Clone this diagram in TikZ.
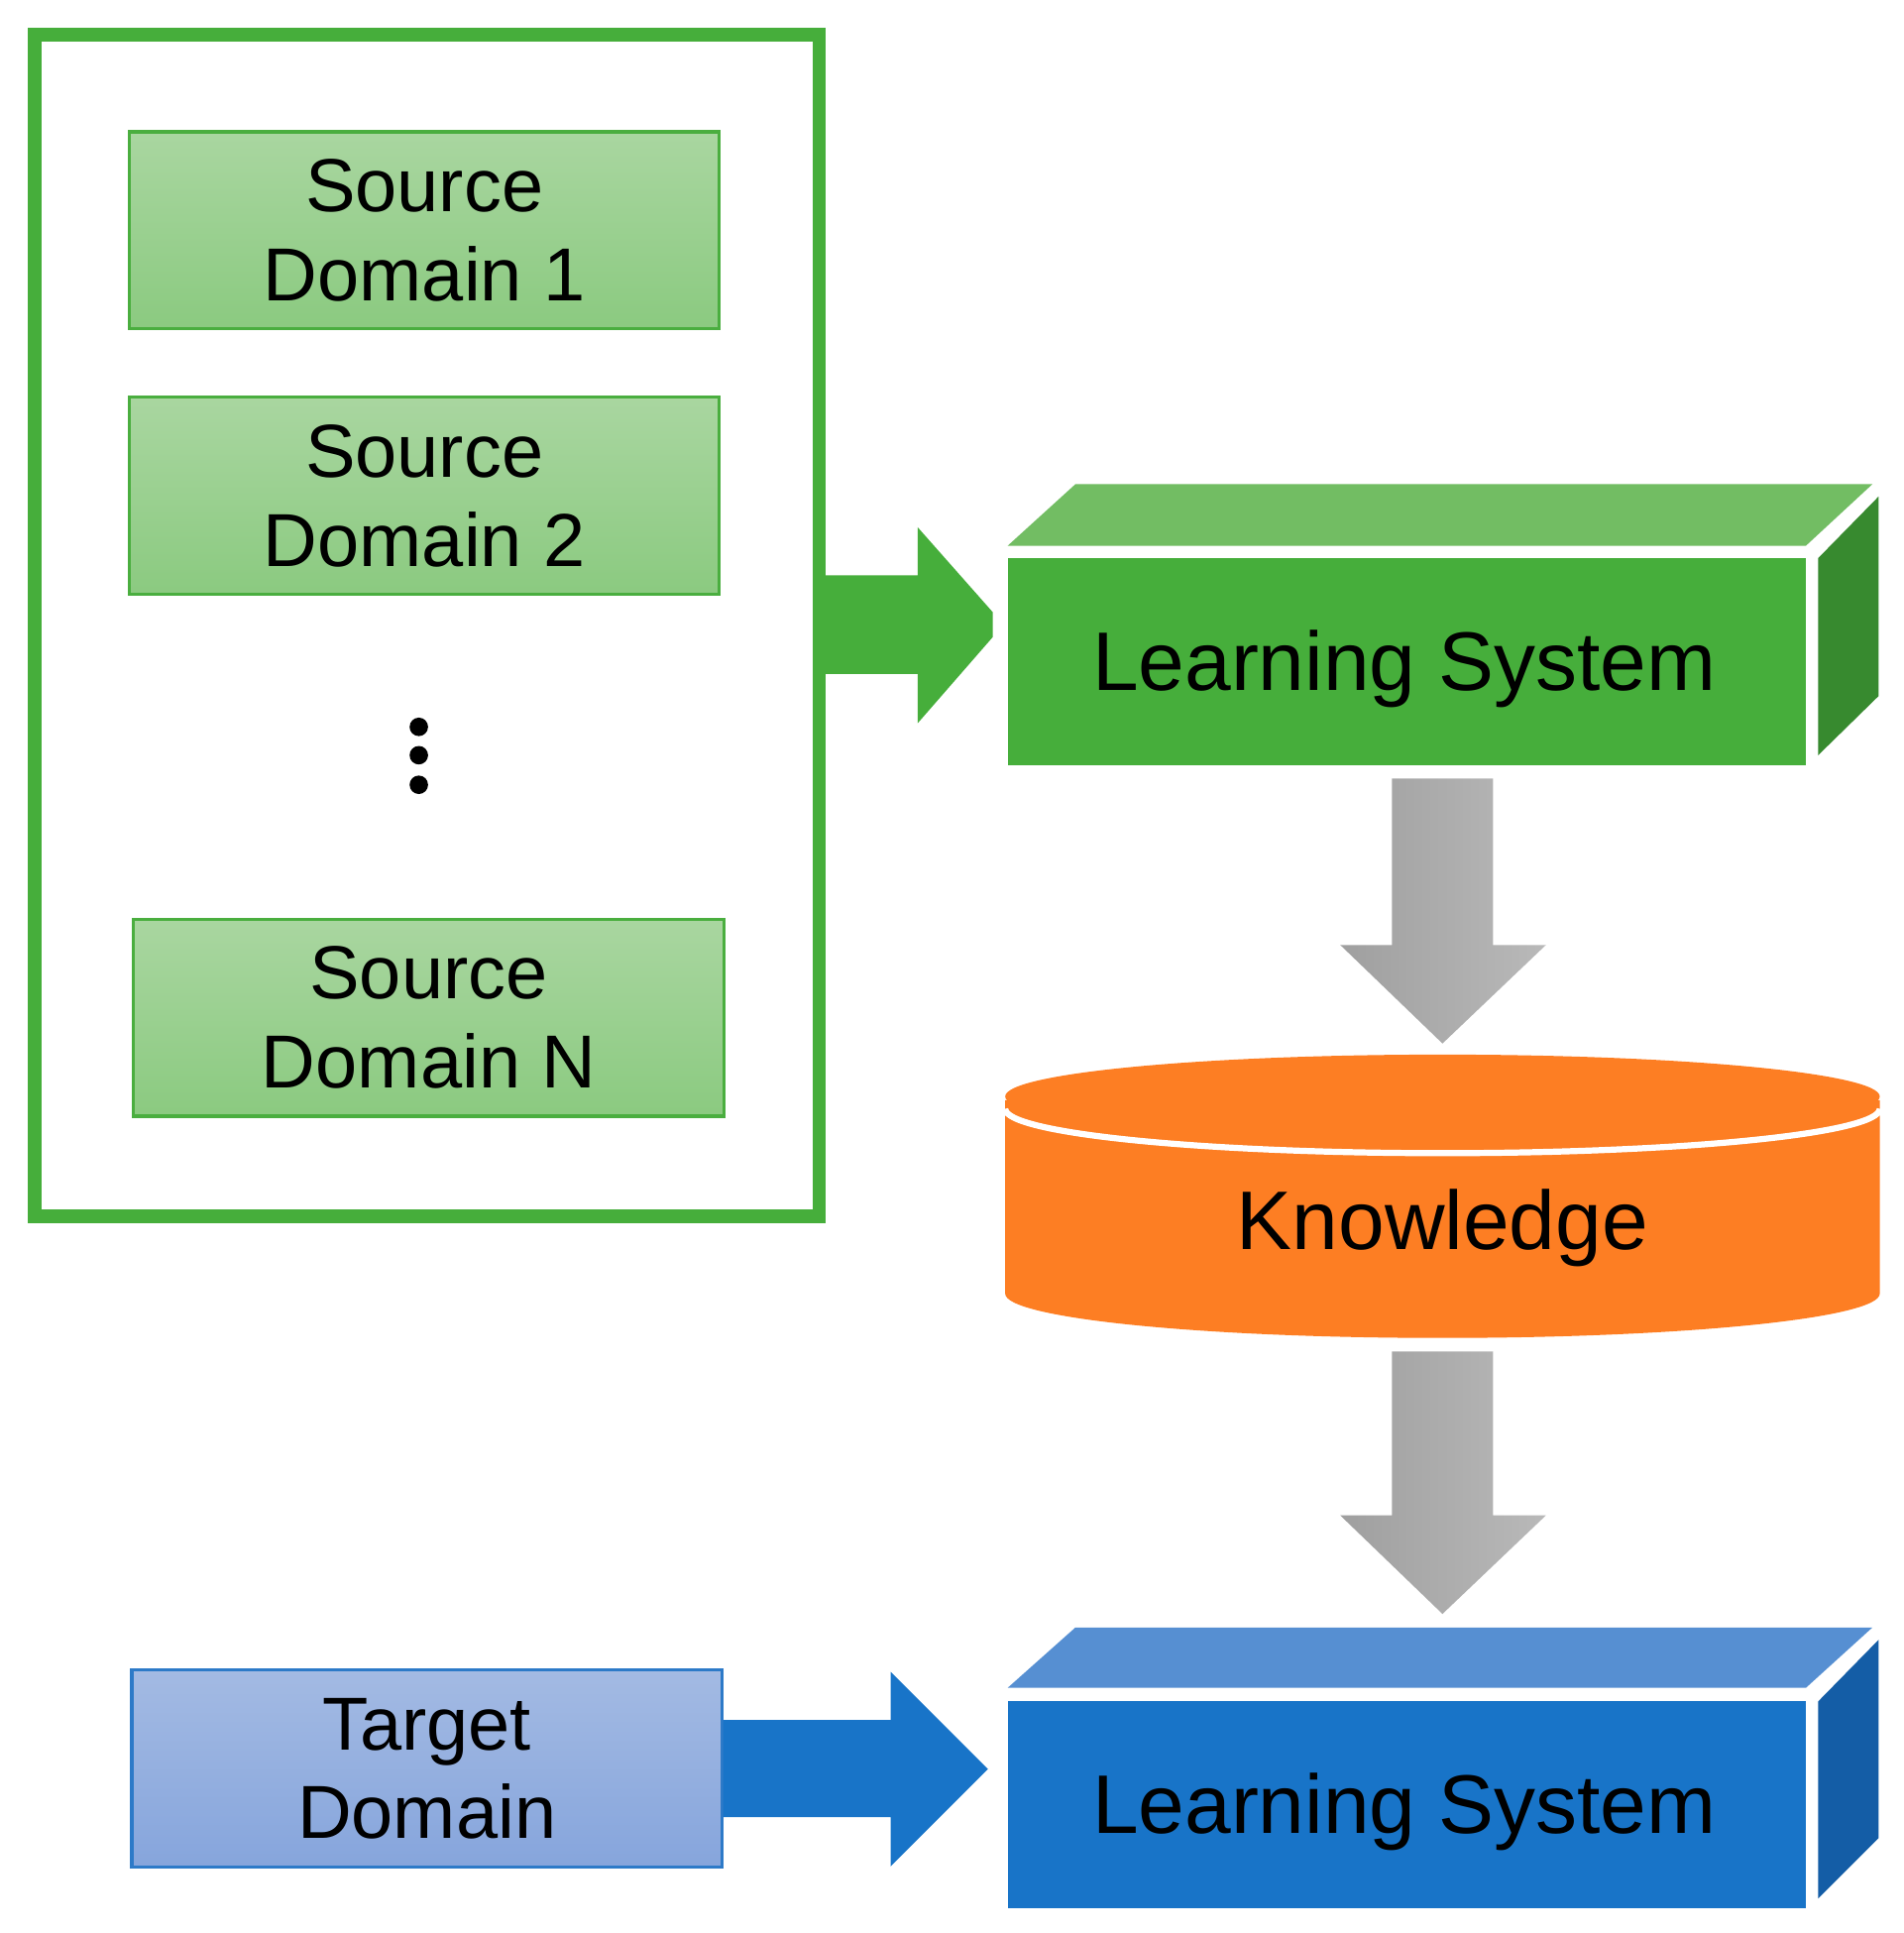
\documentclass[tikz,border=0pt]{standalone}
\usepackage{fontspec}
\setmainfont{Liberation Sans}
\begin{document}
\begin{tikzpicture}[x=1pt,y=-1pt,
 src/.style={draw=srcB,line width=2.5pt,top color=srcT,bottom color=srcBot,minimum width=479pt,minimum height=160pt,align=center,font=\fontsize{61}{72}\selectfont,inner sep=0pt},
 big/.style={font=\fontsize{67.5}{80}\selectfont}]
\definecolor{grn}{HTML}{46AE3B}\definecolor{grnT}{HTML}{72BD63}\definecolor{grnS}{HTML}{378A2F}
\definecolor{srcB}{HTML}{4AAE3F}\definecolor{srcT}{HTML}{A9D6A0}\definecolor{srcBot}{HTML}{8BCA80}
\definecolor{blu}{HTML}{1874C8}\definecolor{bluT}{HTML}{568FD2}\definecolor{bluS}{HTML}{145DA6}
\definecolor{tgB}{HTML}{2D7AC8}\definecolor{tgT}{HTML}{A3BAE3}\definecolor{tgBot}{HTML}{86A5DC}
\definecolor{org}{HTML}{FD7E23}
\useasboundingbox (0,0) rectangle (1545,1569);
% outer frame
\draw[grn,line width=11pt] (28,28) rectangle (665,987);
\node[src] (s1) at (344.5,187) {Source\\Domain 1};
\node[src] (s2) at (344.5,402.5) {Source\\Domain 2};
\node[src] (sn) at (348,826) {Source\\Domain N};
\foreach \y in {590,613,637} \fill (340,\y) circle (7.5);
% green arrow
\fill[grn] (668,467) -- (745,467) -- (745,428) -- (806,497) -- (806,517) -- (745,587) -- (745,547) -- (668,547) -- cycle;
% green box
\fill[grnT] (818,443) -- (873,393) -- (1520,393) -- (1466,443) -- cycle;
\fill[grnS] (1476,453) -- (1525,403) -- (1525,565) -- (1476,613) -- cycle;
\fill[grn] (818,453) rectangle (1466,621);
\node[big] (ls1) at (1140,543) {Learning System};
% gray arrow 1
\shade[left color=gray!75,right color=gray!55] (1130,632) -- (1212,632) -- (1212,767) -- (1255,767) -- (1171,847) -- (1088,767) -- (1130,767) -- cycle;
% cylinder
\fill[org] (816,893) -- (816,1050) arc[start angle=180,end angle=0,x radius=355,y radius=36] -- (1526,893) -- cycle;
\draw[white,line width=5pt] (816,900) arc[start angle=180,end angle=0,x radius=355,y radius=36];
\fill[org] (1171,890) ellipse[x radius=355,y radius=34];
\node[big] (kn) at (1171,997) {Knowledge};
% gray arrow 2
\shade[left color=gray!75,right color=gray!55] (1130,1097) -- (1212,1097) -- (1212,1230) -- (1255,1230) -- (1171,1310) -- (1088,1230) -- (1130,1230) -- cycle;
% blue box
\fill[bluT] (818,1370) -- (873,1321) -- (1520,1321) -- (1466,1370) -- cycle;
\fill[bluS] (1476,1381) -- (1525,1331) -- (1525,1492) -- (1476,1541) -- cycle;
\fill[blu] (818,1381) rectangle (1466,1549);
\node[big] (ls2) at (1140,1471) {Learning System};
% target
\node[src,draw=tgB,top color=tgT,bottom color=tgBot] (tg) at (346.5,1435.5) {Target\\Domain};
\fill[blu] (587,1396) -- (723,1396) -- (723,1357) -- (802,1436) -- (723,1515) -- (723,1475) -- (587,1475) -- cycle;
\end{tikzpicture}
\end{document}
